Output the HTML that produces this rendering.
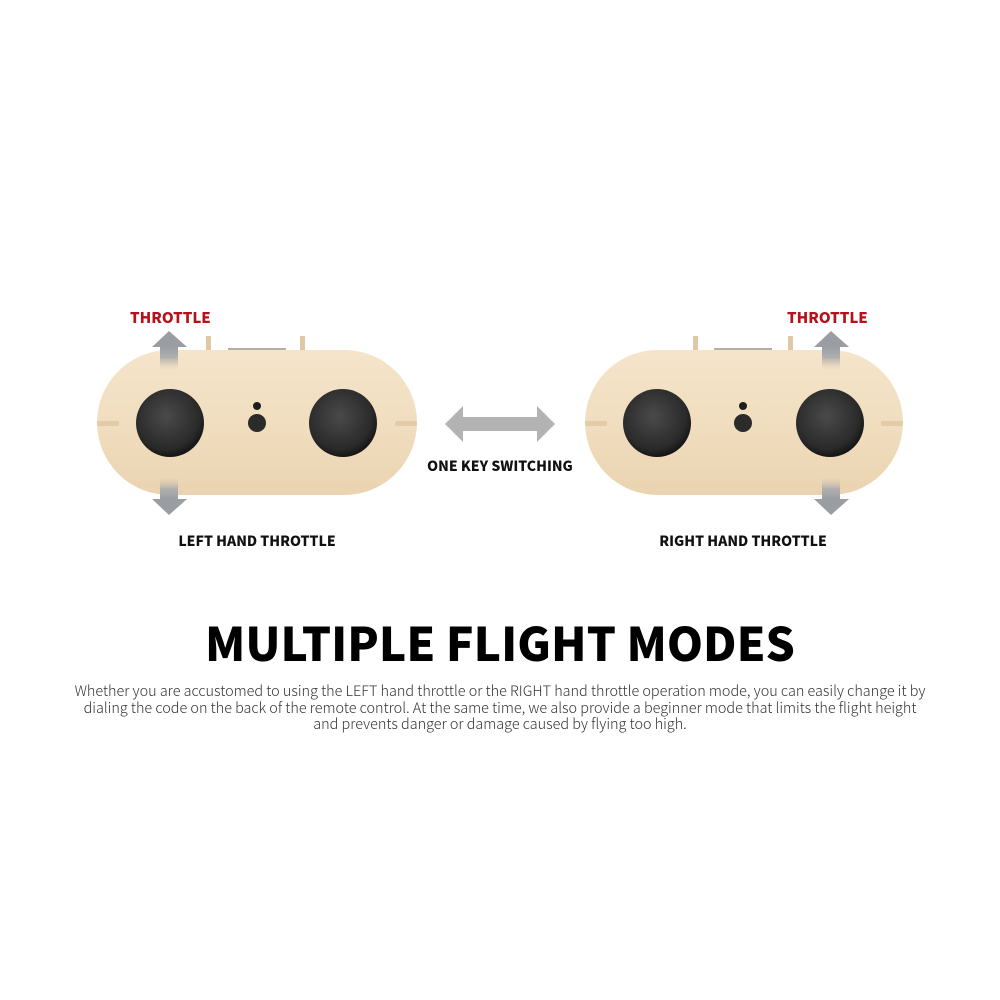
<!DOCTYPE html>
<html><head><meta charset="utf-8"><style>
body{margin:0;background:#fff;width:1000px;height:1000px;overflow:hidden;position:relative;font-family:"Noto Sans CJK SC","Liberation Sans",sans-serif}
.t{position:absolute;white-space:nowrap}
</style></head><body>
<svg width="1000" height="1000" style="position:absolute;left:0;top:0">
<defs>
<linearGradient id="wood" x1="0" y1="0" x2="0" y2="1">
<stop offset="0" stop-color="#f4e4ca"/><stop offset="0.5" stop-color="#f1dec0"/><stop offset="1" stop-color="#ead3b0"/></linearGradient>
<radialGradient id="joy" cx="0.45" cy="0.4" r="0.6">
<stop offset="0" stop-color="#4a4a4a"/><stop offset="0.8" stop-color="#2a2a2a"/><stop offset="1" stop-color="#151515"/></radialGradient>
<linearGradient id="gup" x1="0" y1="0" x2="0" y2="1"><stop offset="0" stop-color="#9a9ea3"/><stop offset="0.45" stop-color="#b0b0ae"/><stop offset="1" stop-color="#e8d3b3" stop-opacity="0"/></linearGradient>
<linearGradient id="gdn" x1="0" y1="1" x2="0" y2="0"><stop offset="0" stop-color="#9a9ea3"/><stop offset="0.45" stop-color="#b0b0ae"/><stop offset="1" stop-color="#e8d3b3" stop-opacity="0"/></linearGradient>
</defs>
<g>
<rect x="206" y="336" width="5" height="14" fill="#e0c8a5"/><rect x="300" y="336" width="5" height="14" fill="#e0c8a5"/>
<rect x="228" y="348" width="58" height="3" fill="#b5aea5"/>
<rect x="97" y="350" width="320" height="145" rx="72.5" fill="url(#wood)"/>
<rect x="97" y="421" width="22" height="5" rx="2" fill="#e3cba7"/><rect x="395" y="421" width="22" height="5" rx="2" fill="#e3cba7"/>
<circle cx="170" cy="423" r="34" fill="url(#joy)"/>
<circle cx="343" cy="423" r="34" fill="url(#joy)"/>
<circle cx="257" cy="423" r="9" fill="#2b2b2b"/><circle cx="257" cy="406" r="4" fill="#1e1e1e"/>
<polygon points="152,347 169,331 187,347" fill="#9a9ea3"/><rect x="160" y="347" width="18" height="24" fill="url(#gup)"/>
<polygon points="152,499 169,515 187,499" fill="#9a9ea3"/><rect x="160" y="476" width="18" height="23" fill="url(#gdn)"/>
</g>
<g>
<rect x="693" y="336" width="5" height="14" fill="#e0c8a5"/><rect x="788" y="336" width="5" height="14" fill="#e0c8a5"/>
<rect x="714" y="348" width="58" height="3" fill="#b5aea5"/>
<rect x="585" y="350" width="318" height="145" rx="72.5" fill="url(#wood)"/>
<rect x="585" y="421" width="22" height="5" rx="2" fill="#e3cba7"/><rect x="881" y="421" width="22" height="5" rx="2" fill="#e3cba7"/>
<circle cx="657" cy="423" r="34" fill="url(#joy)"/>
<circle cx="830" cy="423" r="34" fill="url(#joy)"/>
<circle cx="743" cy="423" r="9" fill="#2b2b2b"/><circle cx="743" cy="406" r="4" fill="#1e1e1e"/>
<polygon points="814,347 831,331 849,347" fill="#9a9ea3"/><rect x="822" y="347" width="18" height="24" fill="url(#gup)"/>
<polygon points="814,499 831,515 849,499" fill="#9a9ea3"/><rect x="822" y="476" width="18" height="23" fill="url(#gdn)"/>
</g>
<polygon points="445,424 463,406 463,417 537,417 537,406 555,424 537,442 537,431 463,431 463,442" fill="#b3b3b3"/>
</svg>
<div class="t" style="left:130px;top:307px;font-size:15px;font-weight:900;color:#b5121b;width:80px;text-align:center">THROTTLE</div>
<div class="t" style="left:787px;top:307px;font-size:15px;font-weight:900;color:#b5121b;width:80px;text-align:center">THROTTLE</div>
<div class="t" style="left:400px;top:456px;font-size:14px;font-weight:900;color:#111;width:200px;text-align:center">ONE KEY SWITCHING</div>
<div class="t" style="left:157px;top:531px;font-size:14px;font-weight:900;color:#111;width:200px;text-align:center">LEFT HAND THROTTLE</div>
<div class="t" style="left:643px;top:531px;font-size:14px;font-weight:900;color:#111;width:200px;text-align:center">RIGHT HAND THROTTLE</div>
<div class="t" style="left:0;top:610px;width:1000px;text-align:center;font-size:46px;font-weight:900;color:#000;line-height:64px">MULTIPLE FLIGHT MODES</div>
<div class="t" style="left:0;top:683px;width:1000px;text-align:center;font-size:14.4px;font-weight:300;color:#333;line-height:16.5px;white-space:normal">Whether you are accustomed to using the LEFT hand throttle or the RIGHT hand throttle operation mode, you can easily change it by<br>dialing the code on the back of the remote control. At the same time, we also provide a beginner mode that limits the flight height<br>and prevents danger or damage caused by flying too high.</div>
</body></html>
